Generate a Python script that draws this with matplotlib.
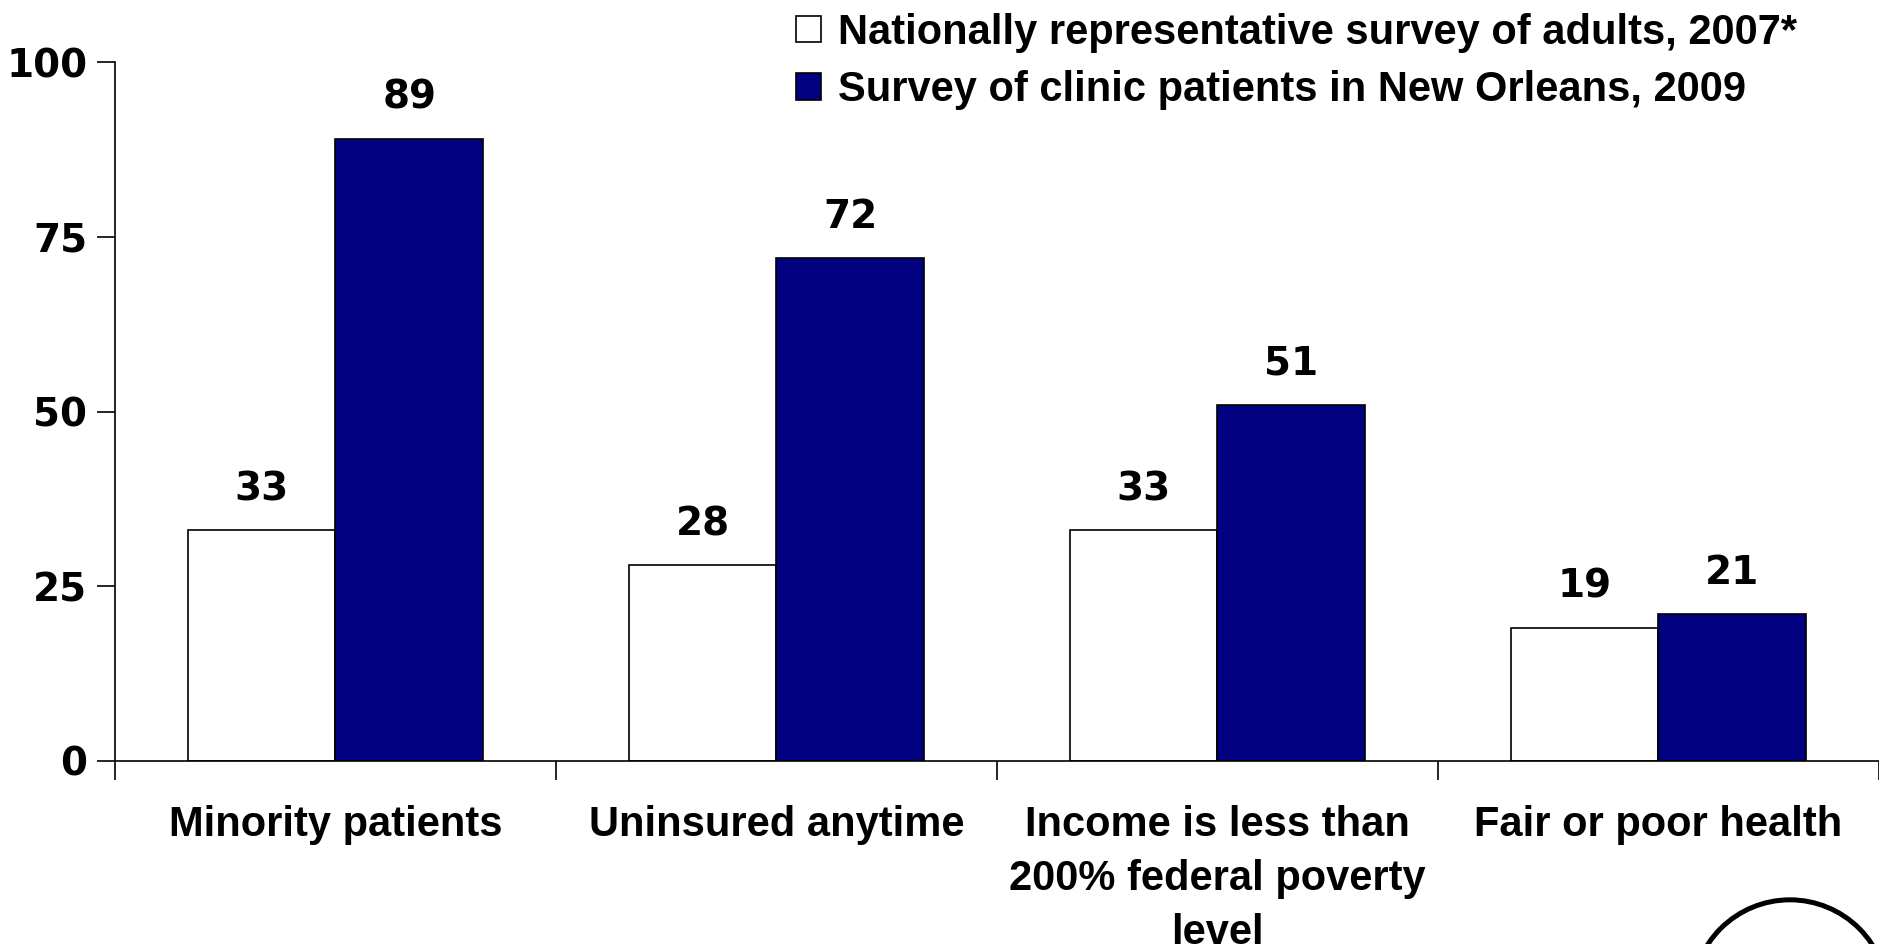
import numpy as np
import matplotlib.pyplot as plt
from matplotlib.patches import Ellipse

categories = ['Minority patients', 'Uninsured anytime',
              'Income is less than\n200% federal poverty\nlevel',
              'Fair or poor health']
national_2007 = [33, 28, 33, 19]
new_orleans_2009 = [89, 72, 51, 21]
series_names = ['Nationally representative survey of adults, 2007*',
                'Survey of clinic patients in New Orleans, 2009']
y_ticks = [0, 25, 50, 75, 100]

NAVY = '#000080'
LABEL_FONT = ['Liberation Sans', 'DejaVu Sans']
NUM_FONT = ['DejaVu Sans']


def main():
    fig = plt.figure(figsize=(18.79, 9.44), dpi=100)
    ax = fig.add_axes([0.0612, 0.194, 0.9388, 0.74])

    x = np.arange(len(categories))
    w = 0.335
    b1 = ax.bar(x - w / 2, national_2007, w, color='white',
                edgecolor='black', linewidth=1.2, label=series_names[0])
    b2 = ax.bar(x + w / 2, new_orleans_2009, w, color=NAVY,
                edgecolor='black', linewidth=1.2, label=series_names[1])

    for bars in (b1, b2):
        ax.bar_label(bars, padding=16, fontsize=28, fontweight='bold',
                     family=NUM_FONT)

    ax.set_xlim(-0.5, len(categories) - 0.5)
    ax.set_ylim(0, 100)
    ax.set_yticks(y_ticks)
    ax.set_yticklabels([str(t) for t in y_ticks], fontsize=28,
                       fontweight='bold', family=NUM_FONT)

    # category ticks sit between the groups, labels in the middle
    ax.set_xticks(np.arange(len(categories) + 1) - 0.5)
    ax.set_xticklabels([])
    ax.set_xticks(x, minor=True)
    ax.set_xticklabels(categories, minor=True, fontsize=30,
                       fontweight='bold', family=LABEL_FONT,
                       linespacing=1.45)
    ax.tick_params(axis='x', which='minor', length=0, pad=32)
    ax.tick_params(axis='x', which='major', length=14, width=1.2,
                   direction='out')
    ax.tick_params(axis='y', length=13, width=1.2, pad=7)

    for s in ('top', 'right'):
        ax.spines[s].set_visible(False)
    for s in ('left', 'bottom'):
        ax.spines[s].set_linewidth(1.2)

    fig.legend(loc='upper left', bbox_to_anchor=(0.415, 1.004),
               frameon=False, prop={'family': LABEL_FONT, 'weight': 'bold',
                                    'size': 30},
               handlelength=0.6, handleheight=0.6, handletextpad=0.4,
               labelspacing=0.42, borderaxespad=0)

    circ = Ellipse((0.9526, -0.057), 0.1043, 0.2076, transform=fig.transFigure,
                   fill=False, edgecolor='black', linewidth=3.6, clip_on=False)
    fig.patches.append(circ)

    fig.savefig('out.png', dpi=100)


if __name__ == '__main__':
    main()
